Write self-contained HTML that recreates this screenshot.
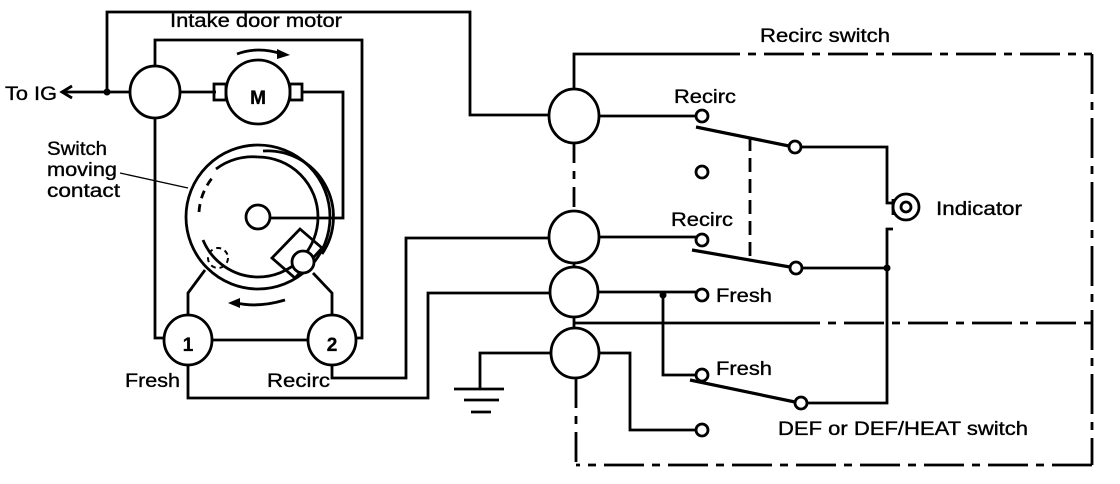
<!DOCTYPE html>
<html><head><meta charset="utf-8"><style>
html,body{margin:0;padding:0;background:#fff;}
svg{display:block;}
text{font-family:"Liberation Sans",Arial,sans-serif;font-size:19px;fill:#000;stroke:#000;stroke-width:0.35;}
</style></head><body>
<svg width="1120" height="484" viewBox="0 0 1120 484" xmlns="http://www.w3.org/2000/svg">
<g fill="none" stroke="#000" stroke-width="2.8">
<polyline points="107,92 107,12 470,12 470,115 549,115"/>
<line x1="62" y1="92" x2="130" y2="92"/>
<polyline points="72,86 62,92 72,98"/>
<polyline points="155,67 155,40 362,40 362,338 356,338"/>
<polyline points="155,117 155,338 164,338"/>
<ellipse cx="155" cy="92" rx="25" ry="26"/>
<line x1="180" y1="92" x2="216" y2="92"/>
<rect x="214" y="84" width="12" height="16"/>
<rect x="290" y="84" width="12" height="16"/>
<circle cx="258" cy="92" r="32"/>
<polyline points="302,92 343,92 343,218 270,218"/>
<path d="M237,54 Q258,46 282,54"/>
<circle cx="258" cy="217" r="72"/>
<path d="M258,157 A60,60 0 1 1 258,277" />
<path d="M258,277 A60,60 0 0 1 203,240"/>
<path d="M199,212 A60,60 0 0 1 213,177" stroke-dasharray="8,6"/>
<path d="M216,169 A60,60 0 0 1 258,157"/>
<path d="M263,151 A66,66 0 0 1 322,254"/>
<circle cx="258" cy="217" r="12"/>
<polygon points="300,229 322,248 295,278 272,258"/>
<circle cx="303" cy="262" r="11" fill="#fff"/>
<circle cx="218" cy="258" r="10" stroke-dasharray="5,4" stroke-width="2"/>
<polyline points="188,316 188,293 205,270"/>
<polyline points="332,316 332,293 313,273"/>
<path d="M237,303 Q258,308 285,300"/>
<ellipse cx="188" cy="340" rx="24" ry="25"/>
<ellipse cx="332" cy="340" rx="24" ry="25"/>
<line x1="212" y1="340" x2="308" y2="340"/>
<polyline points="332,365 332,378 406,378 406,238 549,238"/>
<polyline points="188,365 188,398 428,398 428,293 549,293"/>
<ellipse cx="574" cy="116" rx="25" ry="27"/>
<ellipse cx="574" cy="237" rx="25" ry="26"/>
<ellipse cx="574" cy="292" rx="24" ry="25"/>
<ellipse cx="575" cy="353" rx="24" ry="25"/>
<polyline points="574,89 574,54 700,54"/>
<line x1="700" y1="54" x2="1092" y2="54" stroke-dasharray="40,8,8,8"/>
<line x1="1092" y1="54" x2="1092" y2="465" stroke-dasharray="40,8,8,8"/>
<line x1="1092" y1="465" x2="576" y2="465" stroke-dasharray="40,8,8,8"/>
<line x1="574" y1="143" x2="574" y2="211" stroke-dasharray="20,8,8,8"/>
<line x1="576" y1="378" x2="576" y2="465" stroke-dasharray="30,8,8,8"/>
<line x1="574" y1="263" x2="574" y2="267"/>
<line x1="574" y1="317" x2="574" y2="328"/>
<line x1="574" y1="323" x2="780" y2="323"/>
<line x1="780" y1="323" x2="1092" y2="323" stroke-dasharray="40,8,8,8"/>
<polyline points="551,353 480,353 480,389"/>
<line x1="454" y1="389" x2="504" y2="389"/>
<line x1="464" y1="400" x2="499" y2="400"/>
<line x1="471" y1="412" x2="491" y2="412"/>
<line x1="599" y1="116" x2="696" y2="116"/>
<line x1="599" y1="237" x2="696" y2="237"/>
<line x1="598" y1="292" x2="696" y2="292"/>
<polyline points="599,353 630,353 630,430 695,430"/>
<polyline points="663,292 663,375 696,375"/>
<circle cx="702" cy="116" r="6"/>
<circle cx="702" cy="172" r="6"/>
<circle cx="702" cy="240" r="6"/>
<circle cx="702" cy="295" r="6"/>
<circle cx="702" cy="375" r="6"/>
<circle cx="702" cy="430" r="6"/>
<circle cx="795" cy="147" r="6"/>
<circle cx="796" cy="268" r="6"/>
<circle cx="801" cy="403" r="6"/>
<line x1="696" y1="127" x2="789" y2="146" stroke-width="3.2"/>
<line x1="692" y1="250" x2="790" y2="267" stroke-width="3.2"/>
<line x1="690" y1="380" x2="795" y2="402" stroke-width="3.2"/>
<line x1="750" y1="137" x2="750" y2="258" stroke-dasharray="14,7"/>
<polyline points="801,147 887,147 887,203 893,203"/>
<polyline points="893,229 887,229 887,403 807,403"/>
<line x1="802" y1="268" x2="887" y2="268"/>
<circle cx="906" cy="207" r="13"/>
<path d="M893,199 L893,215"/>
<circle cx="906" cy="207" r="5"/>
</g>
<g fill="#000">
<circle cx="107" cy="92" r="3.5"/>
<circle cx="663" cy="295" r="3.5"/>
<circle cx="887" cy="268" r="3.5"/>
<polygon points="277,49 290,55 277,59"/>
<polygon points="240,298 228,303 240,308"/>
</g>
<text x="5" y="100" textLength="52" lengthAdjust="spacingAndGlyphs">To IG</text>
<text x="170" y="27" textLength="172" lengthAdjust="spacingAndGlyphs">Intake door motor</text>
<text x="47" y="155" textLength="60" lengthAdjust="spacingAndGlyphs">Switch</text>
<text x="47" y="176" textLength="70" lengthAdjust="spacingAndGlyphs">moving</text>
<text x="47" y="197" textLength="73" lengthAdjust="spacingAndGlyphs">contact</text>
<line x1="120" y1="173" x2="188" y2="188" stroke="#000" stroke-width="1.3"/>
<text x="258" y="104" text-anchor="middle" font-weight="bold" font-size="32">M</text>
<text x="188" y="351" text-anchor="middle" font-weight="bold" font-size="28">1</text>
<text x="332" y="351" text-anchor="middle" font-weight="bold" font-size="28">2</text>
<text x="125" y="387" textLength="55" lengthAdjust="spacingAndGlyphs">Fresh</text>
<text x="267" y="387" textLength="63" lengthAdjust="spacingAndGlyphs">Recirc</text>
<text x="760" y="42" textLength="130" lengthAdjust="spacingAndGlyphs">Recirc switch</text>
<text x="674" y="103" textLength="62" lengthAdjust="spacingAndGlyphs">Recirc</text>
<text x="671" y="226" textLength="62" lengthAdjust="spacingAndGlyphs">Recirc</text>
<text x="716" y="302" textLength="56" lengthAdjust="spacingAndGlyphs">Fresh</text>
<text x="716" y="375" textLength="56" lengthAdjust="spacingAndGlyphs">Fresh</text>
<text x="936" y="215" textLength="86" lengthAdjust="spacingAndGlyphs">Indicator</text>
<text x="778" y="435" textLength="250" lengthAdjust="spacingAndGlyphs">DEF or DEF/HEAT switch</text>
</svg>
</body></html>
